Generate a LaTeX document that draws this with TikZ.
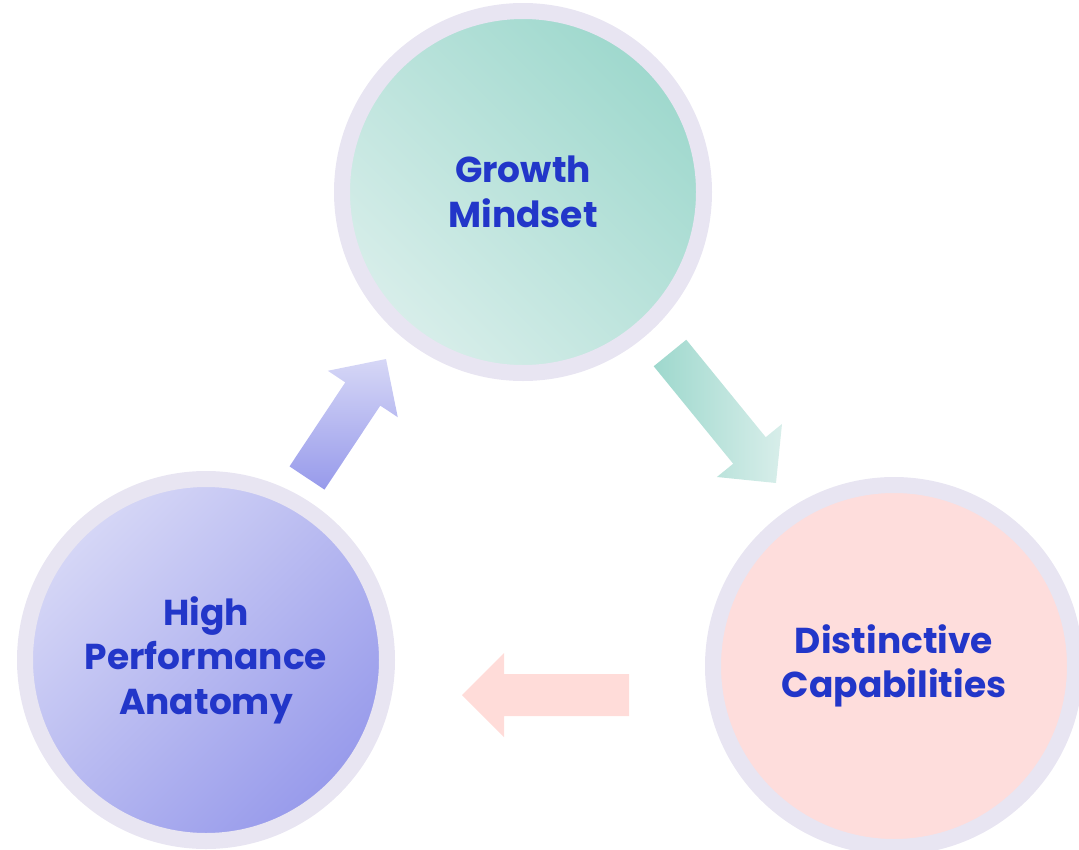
\documentclass[tikz,border=0pt]{standalone}
\usepackage{fontspec}
\setmainfont{Poppins}
\usetikzlibrary{calc}

\definecolor{ringcol}{HTML}{E8E5F2}
\definecolor{labelblue}{HTML}{2236C9}
\definecolor{tealdark}{HTML}{9ED8CD}
\definecolor{teallight}{HTML}{D8EEEA}
\definecolor{lilaclight}{HTML}{D6D7F6}
\definecolor{lilacdark}{HTML}{979AEB}
\definecolor{pinkfill}{HTML}{FEDDDC}
\definecolor{pinkarrow}{HTML}{FFDCD9}

\tikzset{
  bubble/.style={circle, draw=ringcol, line width=16pt, minimum size=362pt,
    inner sep=0pt, align=center, text=labelblue,
    font=\bfseries\fontsize{36}{44.5}\selectfont},
}

% block arrow from #1 to #2, drawn with style #3
\newcommand{\blockarrow}[3]{
  \coordinate (neck) at ($(#2)!42pt!(#1)$);
  \path[#3] ($(#1)!21pt!90:(#2)$) -- ($(neck)!21pt!90:(#2)$)
    -- ($(neck)!42pt!90:(#2)$) -- (#2) -- ($(neck)!42pt!-90:(#2)$)
    -- ($(neck)!21pt!-90:(#2)$) -- ($(#1)!21pt!-90:(#2)$) -- cycle;
}

\begin{document}
\begin{tikzpicture}[x=1pt,y=-1pt]
\useasboundingbox (0,0) rectangle (1079,849);

\node[bubble, top color=tealdark, bottom color=teallight, shading angle=-45] (gm) at (523,192) {Growth\\Mindset};
\node[bubble, fill=pinkfill] (dc) at (894,666) {Distinctive\\Capabilities};
\node[bubble, top color=lilaclight, bottom color=lilacdark, shading angle=45] (hpa) at (206,660) {High\\Performance\\Anatomy};

% arrow ends
\coordinate (gm-out) at (670,353);
\coordinate (dc-in) at (776,483);
\coordinate (dc-out) at (629,695);
\coordinate (hpa-in) at (462,695);
\coordinate (hpa-out) at (307,478);
\coordinate (gm-in) at (386,359);

\blockarrow{gm-out}{dc-in}{left color=tealdark, right color=teallight}
\blockarrow{dc-out}{hpa-in}{fill=pinkarrow}
\blockarrow{hpa-out}{gm-in}{top color=lilaclight, bottom color=lilacdark}

\end{tikzpicture}
\end{document}
